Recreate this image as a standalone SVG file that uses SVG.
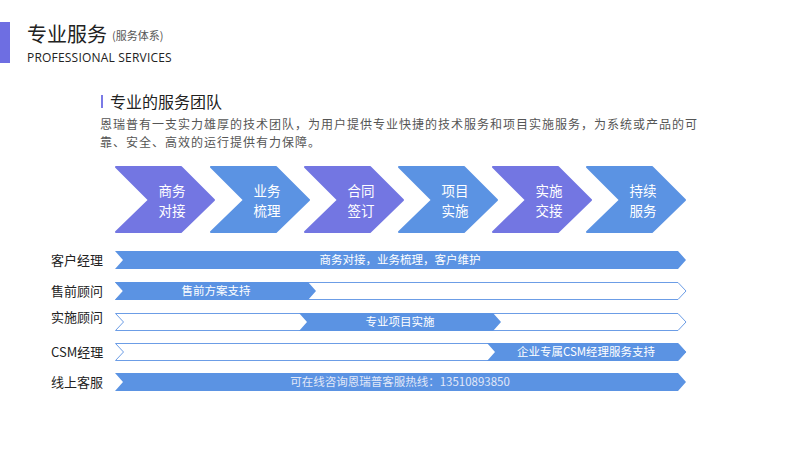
<svg xmlns="http://www.w3.org/2000/svg" width="800" height="450" viewBox="0 0 800 450">
<style>
text{font-family:"Noto Sans CJK SC","Liberation Sans",sans-serif}
.chv{stroke-linejoin:round;stroke-width:2}
.p{fill:#7376E2;stroke:#7376E2}
.b{fill:#5B93E3;stroke:#5B93E3}
.ct{fill:#fff;font-size:13.5px;text-anchor:middle}
.bar{fill:#5B93E3}
.ob{fill:#fff;stroke:#6C9DE6;stroke-width:1}
.bt{fill:#fff;font-size:11.5px;text-anchor:middle}
.lab{fill:#222;font-size:13px}
</style>
<rect width="800" height="450" fill="#fff"/>
<g id="header">
<rect x="0" y="22" width="10" height="41" fill="#6E6EE2"/>
<text x="27" y="42" font-size="20" fill="#222">专业服务</text>
<text x="112" y="40" font-size="11" fill="#555">(服务体系)</text>
<text x="27" y="62" font-size="12" fill="#222" style="font-family:'Open Sans','Liberation Sans',sans-serif" letter-spacing="0.2">PROFESSIONAL SERVICES</text>
</g>
<g id="intro">
<rect x="101" y="95" width="2" height="13" fill="#7A7AE6"/>
<text x="110" y="108" font-size="16" fill="#222">专业的服务团队</text>
<text font-size="12" fill="#555" letter-spacing="1"><tspan x="100" y="129">恩瑞普有一支实力雄厚的技术团队，为用户提供专业快捷的技术服务和项目实施服务，为系统或产品的可</tspan><tspan x="100" y="146.5">靠、安全、高效的运行提供有力保障。</tspan></text>
</g>
<g id="step1"><polygon class="chv p" points="116,167 181,167 214,200 181,232 116,232 149,200"/><text class="ct"><tspan x="172" y="196">商务</tspan><tspan x="172" y="216">对接</tspan></text></g>
<g id="step2"><polygon class="chv b" points="211,167 276,167 309,200 276,232 211,232 244,200"/><text class="ct"><tspan x="267" y="196">业务</tspan><tspan x="267" y="216">梳理</tspan></text></g>
<g id="step3"><polygon class="chv p" points="305,167 370,167 403,200 370,232 305,232 338,200"/><text class="ct"><tspan x="361" y="196">合同</tspan><tspan x="361" y="216">签订</tspan></text></g>
<g id="step4"><polygon class="chv b" points="399,167 464,167 497,200 464,232 399,232 432,200"/><text class="ct"><tspan x="455" y="196">项目</tspan><tspan x="455" y="216">实施</tspan></text></g>
<g id="step5"><polygon class="chv p" points="493,167 558,167 591,200 558,232 493,232 526,200"/><text class="ct"><tspan x="549" y="196">实施</tspan><tspan x="549" y="216">交接</tspan></text></g>
<g id="step6"><polygon class="chv b" points="587,167 652,167 685,200 652,232 587,232 620,200"/><text class="ct"><tspan x="643" y="196">持续</tspan><tspan x="643" y="216">服务</tspan></text></g>
<g id="row1">
<text class="lab" x="51" y="265">客户经理</text>
<polygon class="bar" points="115,251 678,251 686,260 678,269 115,269 123,260"/>
<text class="bt" x="400" y="264">商务对接，业务梳理，客户维护</text>
</g>
<g id="row2">
<text class="lab" x="51" y="296">售前顾问</text>
<polygon class="ob" points="115.5,282.5 678,282.5 686,291 678,299.5 115.5,299.5 123.5,291"/>
<polygon class="bar" points="115,282 308,282 316,291 308,300 115,300 123,291"/>
<text class="bt" x="216" y="295">售前方案支持</text>
</g>
<g id="row3">
<text class="lab" x="51" y="322">实施顾问</text>
<polygon class="ob" points="115.5,313.5 678,313.5 686,322 678,330.5 115.5,330.5 123.5,322"/>
<polygon class="bar" points="299,313 493,313 501,322 493,331 299,331 307,322"/>
<text class="bt" x="400" y="326">专业项目实施</text>
</g>
<g id="row4">
<text class="lab" x="51" y="357">CSM经理</text>
<polygon class="ob" points="115.5,343.5 678,343.5 686,352 678,360.5 115.5,360.5 123.5,352"/>
<polygon class="bar" points="487,343 678,343 686,352 678,361 487,361 495,352"/>
<text class="bt" x="586" y="356">企业专属CSM经理服务支持</text>
</g>
<g id="row5">
<text class="lab" x="51" y="387">线上客服</text>
<polygon class="bar" points="115,373 678,373 686,382 678,391 115,391 123,382"/>
<text class="bt" x="400" y="386" style="fill:#e2e8f8">可在线咨询恩瑞普客服热线：13510893850</text>
</g>
</svg>
